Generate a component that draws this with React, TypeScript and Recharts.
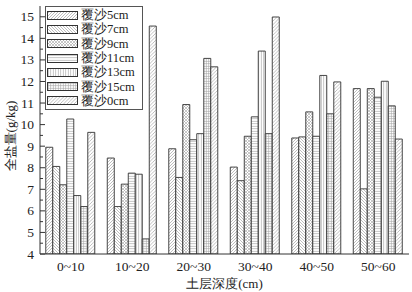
import React from 'react';
import { BarChart, Bar, XAxis, YAxis, Legend } from 'recharts';

const categories = ['0~10', '10~20', '20~30', '30~40', '40~50', '50~60'];
const seriesNames = ['覆沙5cm', '覆沙7cm', '覆沙9cm', '覆沙11cm', '覆沙13cm', '覆沙15cm', '覆沙0cm'];
const sand5 = [8.95, 8.45, 8.88, 8.03, 9.38, 11.67];
const sand7 = [8.06, 6.2, 7.55, 7.4, 9.43, 7.02];
const sand9 = [7.21, 7.24, 10.93, 9.46, 10.59, 11.67];
const sand11 = [10.26, 7.75, 9.3, 10.36, 9.46, 11.27];
const sand13 = [6.71, 7.7, 9.58, 13.41, 12.28, 12.01];
const sand15 = [6.2, 4.7, 13.07, 9.58, 10.5, 10.87];
const sand0 = [9.64, 14.57, 12.68, 14.99, 11.98, 9.33];
const yTicks = [4, 4.5, 5, 5.5, 6, 6.5, 7, 7.5, 8, 8.5, 9, 9.5, 10, 10.5, 11, 11.5, 12, 12.5, 13, 13.5, 14, 14.5, 15];

const seriesValues = [sand5, sand7, sand9, sand11, sand13, sand15, sand0];
const keys = ['s5', 's7', 's9', 's11', 's13', 's15', 's0'];
const patternIds = ['pat5', 'pat7', 'pat9', 'pat11', 'pat13', 'pat15', 'pat0'];

const data = categories.map((cat, i) => {
  const row: Record<string, string | number> = { cat };
  keys.forEach((k, j) => {
    row[k] = seriesValues[j][i];
  });
  return row;
});

const serif = '"Liberation Serif", "Times New Roman", serif';
const hatch = '#a2a2a2';
const edge = '#333';

function Patterns() {
  return (
    <defs>
      <pattern id="pat5" width="3" height="3" patternUnits="userSpaceOnUse">
        <rect width="3" height="3" fill="#fff" />
        <path d="M0,3 L3,0 M-1,1 L1,-1 M2,4 L4,2" stroke={hatch} strokeWidth="0.7" />
      </pattern>
      <pattern id="pat7" width="3" height="3" patternUnits="userSpaceOnUse">
        <rect width="3" height="3" fill="#fff" />
        <path d="M0,0 L3,3 M-1,2 L1,4 M2,-1 L4,1" stroke={hatch} strokeWidth="0.7" />
      </pattern>
      <pattern id="pat9" width="3" height="3" patternUnits="userSpaceOnUse">
        <rect width="3" height="3" fill="#fff" />
        <path d="M0,3 L3,0 M0,0 L3,3" stroke={hatch} strokeWidth="0.6" />
      </pattern>
      <pattern id="pat11" width="3" height="2.5" patternUnits="userSpaceOnUse">
        <rect width="3" height="2.5" fill="#fff" />
        <path d="M0,1.25 L3,1.25" stroke={hatch} strokeWidth="0.7" />
      </pattern>
      <pattern id="pat13" width="2.5" height="3" patternUnits="userSpaceOnUse">
        <rect width="2.5" height="3" fill="#fff" />
        <path d="M1.25,0 L1.25,3" stroke={hatch} strokeWidth="0.7" />
      </pattern>
      <pattern id="pat15" width="2.5" height="2.5" patternUnits="userSpaceOnUse">
        <rect width="2.5" height="2.5" fill="#fff" />
        <path d="M0,1.25 L2.5,1.25 M1.25,0 L1.25,2.5" stroke={hatch} strokeWidth="0.6" />
      </pattern>
      <pattern id="pat0" width="3.5" height="3.5" patternUnits="userSpaceOnUse">
        <rect width="3.5" height="3.5" fill="#fff" />
        <path d="M0,3.5 L3.5,0 M-1,1 L1,-1 M2.5,4.5 L4.5,2.5" stroke={hatch} strokeWidth="0.7" />
      </pattern>
    </defs>
  );
}

const YTick = (props: any) => {
  const { x, y, payload } = props;
  const v = payload.value as number;
  const major = Number.isInteger(v);
  return (
    <g>
      <line x1={x} x2={x + (major ? 5 : 3)} y1={y} y2={y} stroke={edge} strokeWidth={1} />
      {major && (
        <text x={x - 6} y={y} dy={4.5} textAnchor="end" fontFamily={serif} fontSize={13.5} fill="#222">
          {v}
        </text>
      )}
    </g>
  );
};

const YLabel = (props: any) => {
  const { viewBox } = props;
  const cx = viewBox.x + 10;
  const cy = viewBox.y + viewBox.height / 2 + 6;
  return (
    <text
      x={cx}
      y={cy}
      transform={`rotate(-90, ${cx}, ${cy})`}
      textAnchor="middle"
      dominantBaseline="central"
      fontFamily={serif}
      fontSize={13}
      fill="#222"
    >
      全盐量(g/kg)
    </text>
  );
};

const XLabel = (props: any) => {
  const { viewBox } = props;
  return (
    <text
      x={viewBox.x + viewBox.width / 2}
      y={viewBox.y + 34}
      textAnchor="middle"
      fontFamily={serif}
      fontSize={13}
      fill="#222"
    >
      土层深度(cm)
    </text>
  );
};

const LegendBox = () => (
  <div
    style={{
      border: '1px solid #555',
      background: '#fff',
      padding: '1px 2px 1px 1px',
      width: 93,
      boxSizing: 'content-box',
    }}
  >
    {seriesNames.map((name, i) => (
      <div key={name} style={{ display: 'flex', alignItems: 'center', height: 14.3 }}>
        <svg width={31} height={9} style={{ marginRight: 3, display: 'block' }}>
          <rect x={0.5} y={0.5} width={30} height={8} fill={`url(#${patternIds[i]})`} stroke={edge} strokeWidth={1} />
        </svg>
        <span style={{ fontFamily: serif, fontSize: 12.5, color: '#222', lineHeight: '14px' }}>{name}</span>
      </div>
    ))}
  </div>
);

export default function App() {
  return (
    <div style={{ position: 'absolute', left: 0, top: 0, background: '#fff' }}>
      <BarChart
        width={412}
        height={292}
        data={data}
        margin={{ top: 6, right: 3, bottom: 0, left: 0 }}
        barCategoryGap="9.4%"
        barGap={0}
      >
        <Patterns />
        <XAxis
          dataKey="cat"
          height={38}
          tickLine={false}
          tickSize={0}
          tickMargin={7}
          axisLine={{ stroke: edge, strokeWidth: 1 }}
          tick={{ fontFamily: serif, fontSize: 13.5, fill: '#222' }}
          label={<XLabel />}
        />
        <XAxis
          xAxisId="top"
          orientation="top"
          dataKey="cat"
          height={0}
          tick={false}
          tickLine={false}
          axisLine={{ stroke: edge, strokeWidth: 1 }}
        />
        <YAxis
          width={40}
          domain={[4, 15.5]}
          ticks={yTicks}
          interval={0}
          allowDataOverflow
          tickLine={false}
          tickSize={0}
          tickMargin={0}
          axisLine={{ stroke: edge, strokeWidth: 1 }}
          tick={<YTick />}
          label={<YLabel />}
        />
        <YAxis
          yAxisId="right"
          orientation="right"
          width={0}
          domain={[4, 15.5]}
          tick={false}
          tickLine={false}
          axisLine={{ stroke: edge, strokeWidth: 1 }}
        />
        {keys.map((k, i) => (
          <Bar
            key={k}
            dataKey={k}
            name={seriesNames[i]}
            fill={`url(#${patternIds[i]})`}
            stroke={edge}
            strokeWidth={0.9}
            isAnimationActive={false}
          />
        ))}
        <Legend
          layout="vertical"
          align="center"
          verticalAlign="middle"
          content={<LegendBox />}
          wrapperStyle={{ position: 'absolute', left: 45, top: 6, width: 'auto' }}
        />
      </BarChart>
    </div>
  );
}
